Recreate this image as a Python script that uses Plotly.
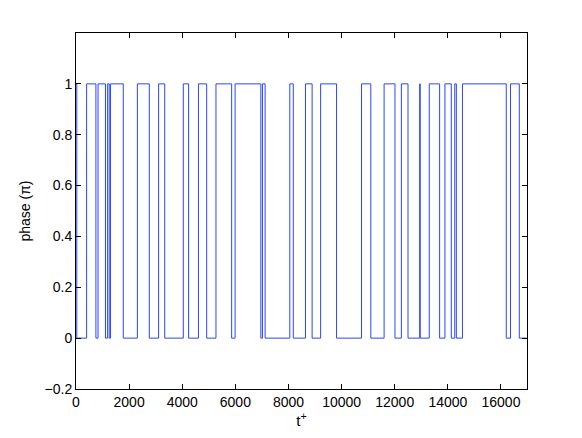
import plotly.graph_objects as go

# switch times (t+) and the phase value held from each time onward
switch_t = [0, 30, 400, 750, 830, 1110, 1190, 1250, 1300, 1780, 2310, 2760,
            3110, 3340, 4040, 4240, 4610, 4920, 5270, 5860, 5990, 6960, 7020,
            7120, 8050, 8180, 8640, 8890, 9210, 9810, 10750, 11100, 11600,
            12010, 12250, 12500, 12940, 12960, 13300, 13690, 13890, 14130,
            14260, 14320, 14550, 16200, 16360, 16690, 16980]
phase = [1, 0, 1, 0, 1, 0, 1, 0, 1, 0, 1, 0,
         1, 0, 1, 0, 1, 0, 1, 0, 1, 0, 1,
         0, 1, 0, 1, 0, 1, 0, 1, 0, 1,
         0, 1, 0, 1, 0, 1, 0, 1, 0,
         1, 0, 1, 0, 1, 0, 0]

x_ticks = list(range(0, 16001, 2000))
y_ticks = [-0.2, 0, 0.2, 0.4, 0.6, 0.8, 1]

fig = go.Figure()
fig.add_trace(go.Scatter(
    x=switch_t, y=phase, mode="lines", line_shape="hv",
    line=dict(color="#2a46ff", width=1),
    showlegend=False,
))

axis_style = dict(
    showline=True, linecolor="black", linewidth=1, mirror="ticks",
    ticks="inside", ticklen=5, tickcolor="black",
    showgrid=False, zeroline=False,
    tickfont=dict(size=14, color="black"),
)

fig.update_xaxes(
    range=[0, 16980], tickvals=x_ticks, tickformat="d",
    title=dict(text="t<sup>+</sup>", font=dict(size=15, color="black"), standoff=4),
    **axis_style,
)
fig.update_yaxes(
    range=[-0.2, 1.2], tickvals=y_ticks,
    title=dict(text="phase (π)", font=dict(size=14, color="black"), standoff=10),
    **axis_style,
)

# page body has an 8px margin, so the figure is a bit smaller than the window
fig.update_layout(
    width=574, height=430,
    margin=dict(l=68, r=55, t=25, b=49),
    paper_bgcolor="white", plot_bgcolor="white",
    font=dict(family="Liberation Sans, Arial, sans-serif", color="black"),
)

fig.write_html("out.html")
